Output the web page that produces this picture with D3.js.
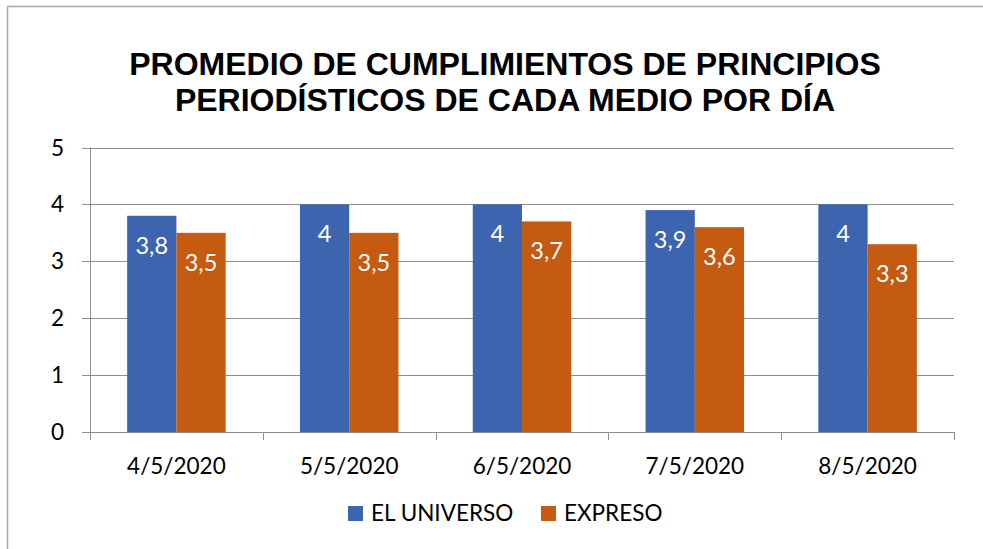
<!DOCTYPE html>
<html>
<head>
<meta charset="utf-8">
<script src="https://cdn.jsdelivr.net/npm/d3@7"></script>
<style>
  body { margin: 0; background: #fff; }
  text { font-family: Lato, "Open Sans", sans-serif; }
</style>
</head>
<body>
<div class="chart"></div>
<script>
const categories = ["4/5/2020", "5/5/2020", "6/5/2020", "7/5/2020", "8/5/2020"]
const series = ["EL UNIVERSO", "EXPRESO"]
const elUniverso = [3.8, 4, 4, 3.9, 4]
const expreso = [3.5, 3.5, 3.7, 3.6, 3.3]
const yTicks = [0, 1, 2, 3, 4, 5]
const colors = ["#3d64ae", "#c55a11"]
const titleLines = ["PROMEDIO DE CUMPLIMIENTOS DE PRINCIPIOS", "PERIODÍSTICOS DE CADA MEDIO POR DÍA"]

const W = 983, H = 549
const margin = {left: 90, right: 29, top: 147.5, bottom: 117}

const data = categories.map(function(c, i) {
	return {date: c, values: [elUniverso[i], expreso[i]]}
})

const svg = d3.select(".chart")
	.append("svg")
	.attr("width", W)
	.attr("height", H)

// outer frame (top + left edges visible)
svg.append("path")
	.attr("d", "M7.5," + H + "V6.5H" + W)
	.attr("fill", "none")
	.attr("stroke", "#a6a6a6")
	.attr("stroke-width", 1.5)

const x0 = d3.scaleBand()
	.domain(categories)
	.range([margin.left, W - margin.right])

const x1 = d3.scaleBand()
	.domain(series)
	.range([x0.bandwidth() * 0.215, x0.bandwidth() * 0.785])

const y = d3.scaleLinear()
	.domain([0, 5])
	.range([H - margin.bottom, margin.top])

// title
svg.append("text")
	.attr("x", 505)
	.attr("y", 75)
	.attr("text-anchor", "middle")
	.attr("font-weight", "bold")
	.attr("font-size", "32px")
	.selectAll("tspan")
	.data(titleLines)
	.enter()
	.append("tspan")
	.attr("x", 505)
	.attr("dy", function(d, i){ return i === 0 ? 0 : 36 })
	.style("font-family", "'Liberation Sans', Arial, sans-serif")
	.text(function(d){ return d })

// gridlines
svg.append("g")
	.selectAll("line")
	.data(yTicks)
	.enter()
	.append("line")
	.attr("x1", margin.left - 8)
	.attr("x2", W - margin.right)
	.attr("y1", function(d){ return Math.round(y(d)) + 0.5 })
	.attr("y2", function(d){ return Math.round(y(d)) + 0.5 })
	.attr("stroke", "#8f8f8f")
	.attr("stroke-width", 1)

// y axis line
svg.append("line")
	.attr("x1", margin.left + 0.5)
	.attr("x2", margin.left + 0.5)
	.attr("y1", y(5))
	.attr("y2", y(0))
	.attr("stroke", "#8f8f8f")

// y labels
svg.append("g")
	.selectAll("text")
	.data(yTicks)
	.enter()
	.append("text")
	.attr("x", margin.left - 26)
	.attr("y", function(d){ return y(d) + 8 })
	.attr("text-anchor", "end")
	.attr("font-size", "22.5px")
	.attr("fill", "#000")
	.text(function(d){ return d })

// x boundary ticks
const bounds = categories.map(function(c){ return x0(c) }).concat([x0.range()[1]])
svg.append("g")
	.selectAll("line")
	.data(bounds)
	.enter()
	.append("line")
	.attr("x1", function(d){ return Math.round(d) + 0.5 })
	.attr("x2", function(d){ return Math.round(d) + 0.5 })
	.attr("y1", y(0))
	.attr("y2", y(0) + 8)
	.attr("stroke", "#8f8f8f")

// x labels
svg.append("g")
	.selectAll("text")
	.data(categories)
	.enter()
	.append("text")
	.attr("x", function(d){ return x0(d) + x0.bandwidth() / 2 })
	.attr("y", 474)
	.attr("text-anchor", "middle")
	.attr("font-size", "22.5px")
	.attr("fill", "#000")
	.text(function(d){ return d })

// bars
const groups = svg.append("g")
	.selectAll("g")
	.data(data)
	.enter()
	.append("g")
	.attr("transform", function(d){ return "translate(" + x0(d.date) + ",0)" })

const cells = groups.selectAll("g")
	.data(function(d){ return d.values.map(function(v, i){ return {key: series[i], value: v, i: i} }) })
	.enter()
	.append("g")

cells.append("rect")
	.attr("x", function(d){ return x1(d.key) })
	.attr("y", function(d){ return y(d.value) })
	.attr("width", x1.bandwidth())
	.attr("height", function(d){ return y(0) - y(d.value) })
	.attr("fill", function(d){ return colors[d.i] })

cells.append("text")
	.attr("x", function(d){ return x1(d.key) + x1.bandwidth() / 2 })
	.attr("y", function(d){ return y(d.value) + 38 })
	.attr("text-anchor", "middle")
	.attr("font-size", "23.5px")
	.attr("fill", "#fff")
	.text(function(d){ return String(d.value).replace(".", ",") })

// legend
const legendX = [348, 541]
const legend = svg.append("g")
	.selectAll("g")
	.data(series)
	.enter()
	.append("g")
	.attr("transform", function(d, i){ return "translate(" + legendX[i] + ",506)" })

legend.append("rect")
	.attr("width", 15)
	.attr("height", 15)
	.attr("fill", function(d, i){ return colors[i] })

legend.append("text")
	.attr("x", 23)
	.attr("y", 15)
	.attr("font-size", "22.5px")
	.attr("fill", "#000")
	.text(function(d){ return d })
</script>
</body>
</html>
